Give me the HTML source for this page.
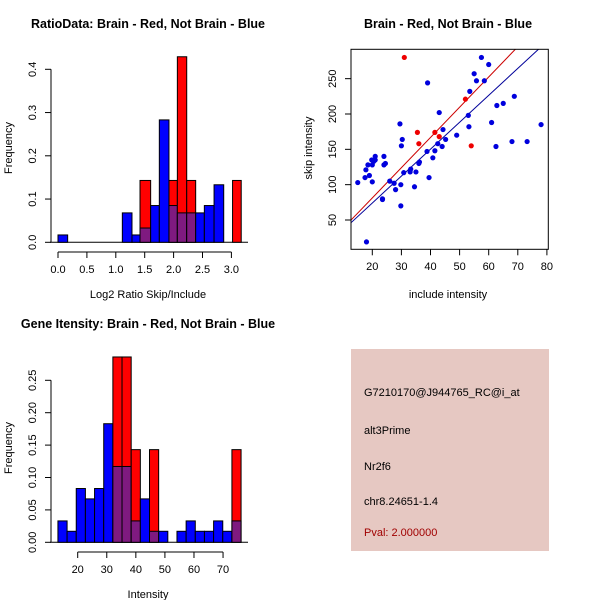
<!DOCTYPE html>
<html><head><meta charset="utf-8"><style>
body{margin:0;background:#fff}
svg{display:block;font-family:"Liberation Sans",sans-serif}
.t{font-weight:bold;font-size:12.5px}
.l{font-size:11px}
</style></head><body>
<svg id="s" width="600" height="600" viewBox="0 0 600 600" xmlns="http://www.w3.org/2000/svg">
<g id="p1"></g>
<g id="p2"></g>
<g id="p3"></g>
<g id="p4">
<rect x="351" y="349" width="198" height="202" fill="#e6c8c2"/>
<text x="364" y="396" class="l" fill="#000">G7210170@J944765_RC@i_at</text>
<text x="364" y="434" class="l" fill="#000">alt3Prime</text>
<text x="364" y="470" class="l" fill="#000">Nr2f6</text>
<text x="364" y="505" class="l" fill="#000">chr8.24651-1.4</text>
<text x="364" y="536" class="l" fill="#a00000">Pval: 2.000000</text>
</g>
</svg>
<script>
// Panel 1 data
const ratioBinStart=[0,1.113,1.28,1.419,1.603,1.753,1.92,2.065,2.227,2.382,2.532,2.7,3.02];
const ratioBinEnd=[0.167,1.28,1.419,1.603,1.753,1.92,2.065,2.227,2.382,2.532,2.7,2.867,3.17];
const ratioBlue=[0.017,0.068,0.017,0.033,0.085,0.283,0.085,0.068,0.068,0.068,0.085,0.133,0];
const ratioRed=[0,0,0,0.143,0,0,0.143,0.429,0.143,0,0,0,0.143];
const ratioXTicks=["0.0","0.5","1.0","1.5","2.0","2.5","3.0"];
const ratioYTicks=["0.0","0.1","0.2","0.3","0.4"];
// Panel 3 data
const intStart=13.2, intWidth=3.15;
const intBlue=[0.033,0.017,0.083,0.067,0.083,0.183,0.117,0.117,0.033,0.067,0.017,0.017,0,0.017,0.033,0.017,0.017,0.033,0.017,0.033];
const intRed=[0,0,0,0,0,0,0.286,0.286,0.143,0,0.143,0,0,0,0,0,0,0,0,0.143];
const intXTicks=["20","30","40","50","60","70"];
const intYTicks=["0.00","0.05","0.10","0.15","0.20","0.25"];
// Panel 2 data
const blueX=[15,17.5,17.8,18.5,19,19.8,20,20,20.5,21,21,18,23.5,23.5,24,24,24.5,26,27.5,28,29.5,29.8,29.8,30,30.3,30.8,33,33.2,34.5,35,36,36.2,38.8,39,39.5,40.8,41.5,42.5,43,44,44.3,45.2,49,53,53.2,53.5,55,55.8,57.5,58.5,60,61,62.5,62.8,65,68,68.8,73.2,78];
const blueY=[103,110,121,128,113,135,128,104,133,135,140,19,80,79,140,128,130,105,102,93,186,70,100,155,164,117,118,122,97,118,130,132,147,244,110,138,148,158,202,154,178,164,170,198,182,232,257,247,280,247,270,188,154,212,215,161,225,161,185];
const redX=[31,35.5,36,41.5,43,52,54];
const redY=[280,174,158,174,168,221,155];
const redFit=[-4.4,4.28], blueFit=[-2.2,3.81];
const scatXTicks=[20,30,40,50,60,70,80];
const scatYTicks=[50,100,150,200,250];

const NS="http://www.w3.org/2000/svg";
function mk(parent,tag,attrs,txt){const e=document.createElementNS(NS,tag);for(const k in attrs)e.setAttribute(k,attrs[k]);if(txt!==undefined)e.textContent=txt;parent.appendChild(e);return e;}
const BLUE="#0000ff",RED="#ff0000",PURP="#7f1a80";

function hist(g,starts,ends,blue,red,sx,sy,y0){
  for(let i=0;i<starts.length;i++){
    const b=blue[i],r=red[i];const x1=sx(starts[i]),x2=sx(ends[i]);
    const hi=Math.max(b,r),lo=Math.min(b,r);
    if(hi<=0)continue;
    const e=mk(g,'rect',{x:x1,y:sy(hi),width:x2-x1,height:y0-sy(hi),fill:b>r?BLUE:RED,stroke:'#000','stroke-width':1});
    
    
    if(lo>0){const o=mk(g,'rect',{x:x1,y:sy(lo),width:x2-x1,height:y0-sy(lo),fill:PURP,stroke:'#000','stroke-width':1});
      
      }
  }
}
function yAxisRot(g,ticks,vals,sy,xAxis,x0){
  mk(g,'line',{x1:xAxis,x2:xAxis,y1:sy(vals[0]),y2:sy(vals[vals.length-1]),stroke:'#000'});
  ticks.forEach((t,i)=>{const y=sy(vals[i]);mk(g,'line',{x1:xAxis-6,x2:xAxis,y1:y,y2:y,stroke:'#000'});
    const tx=mk(g,'text',{x:x0,y:y,class:'l','text-anchor':'middle',transform:`rotate(-90 ${x0} ${y})`},t);
    
    });
}
function xAxis(g,ticks,vals,sx,yAxis){
  mk(g,'line',{x1:sx(vals[0]),x2:sx(vals[vals.length-1]),y1:yAxis,y2:yAxis,stroke:'#000'});
  ticks.forEach((t,i)=>{const x=sx(vals[i]);mk(g,'line',{x1:x,x2:x,y1:yAxis,y2:yAxis+6,stroke:'#000'});
    const tx=mk(g,'text',{x:x,y:yAxis+21,class:'l','text-anchor':'middle'},t);
    
    });
}
function labels(g,cx,title,xt,yt,oy){
  let e=mk(g,'text',{x:cx,y:oy+28,class:'t','text-anchor':'middle'},title);
  
  
  e=mk(g,'text',{x:cx,y:oy+298,class:'l','text-anchor':'middle'},xt);
  
  
  const x=cx-136,y=oy+148;
  e=mk(g,'text',{x:x,y:y,class:'l','text-anchor':'middle',transform:`rotate(-90 ${x} ${y})`},yt);
  
  
}
// Panel 1
(function(){const g=document.getElementById('p1');
  const sx=v=>58+v*57.8, sy=v=>242.3-v*432.5;
  mk(g,'line',{x1:50,x2:248,y1:242.3,y2:242.3,stroke:'#000'});
  hist(g,ratioBinStart,ratioBinEnd,ratioBlue,ratioRed,sx,sy,242.3);
  xAxis(g,ratioXTicks,ratioXTicks.map(Number),sx,252);
  yAxisRot(g,ratioYTicks,ratioYTicks.map(Number),sy,51,36);
  labels(g,148,'RatioData: Brain - Red, Not Brain - Blue','Log2 Ratio Skip/Include','Frequency',0);
})();
// Panel 3
(function(){const g=document.getElementById('p3');const oy=300;
  const sx=v=>77.7+(v-20)*2.907, sy=v=>oy+242.3-v*648;
  mk(g,'line',{x1:50,x2:248,y1:oy+242.3,y2:oy+242.3,stroke:'#000'});
  const st=intBlue.map((_,i)=>intStart+i*intWidth), en=st.map(s=>s+intWidth);
  hist(g,st,en,intBlue,intRed,sx,sy,oy+242.3);
  xAxis(g,intXTicks,intXTicks.map(Number),sx,oy+252);
  yAxisRot(g,intYTicks,intYTicks.map(Number),sy,51,36);
  labels(g,148,'Gene Itensity: Brain - Red, Not Brain - Blue','Intensity','Frequency',oy);
})();
// Panel 2
(function(){const g=document.getElementById('p2');
  const sx=v=>372.3+(v-20)*2.91, sy=v=>220-(v-50)*0.7067;
  const cp=mk(g,'clipPath',{id:'cp2'});mk(cp,'rect',{x:351,y:49.3,width:197.3,height:200});
  const lg=mk(g,'g',{'clip-path':'url(#cp2)'});
  [[redFit,'#cc0000','red-fit-line'],[blueFit,'#00009a','blue-fit-line']].forEach(([f,c,n])=>{
    const l=mk(lg,'line',{x1:sx(10),y1:sy(f[0]+f[1]*10),x2:sx(85),y2:sy(f[0]+f[1]*85),stroke:c,'stroke-width':1});
    
    });
  blueX.forEach((x,i)=>{const c=mk(g,'circle',{cx:sx(x),cy:sy(blueY[i]),r:2.6,fill:'#0000dd'});
    
    });
  redX.forEach((x,i)=>{const c=mk(g,'circle',{cx:sx(x),cy:sy(redY[i]),r:2.6,fill:'#ee0000'});
    
    });
  const fr=mk(g,'rect',{x:351,y:49.3,width:197.3,height:200,fill:'none',stroke:'#000'});
  
  
  scatXTicks.forEach(v=>{const x=sx(v);mk(g,'line',{x1:x,x2:x,y1:249.3,y2:255.3,stroke:'#000'});
    const t=mk(g,'text',{x:x,y:270,class:'l','text-anchor':'middle'},v);
    
    });
  scatYTicks.forEach(v=>{const y=sy(v);mk(g,'line',{x1:345,x2:351,y1:y,y2:y,stroke:'#000'});
    const t=mk(g,'text',{x:336,y:y,class:'l','text-anchor':'middle',transform:`rotate(-90 336 ${y})`},v);
    
    });
  labels(g,448,'Brain - Red, Not Brain - Blue','include intensity','skip intensity',0);
})();
</script>
</body></html>
